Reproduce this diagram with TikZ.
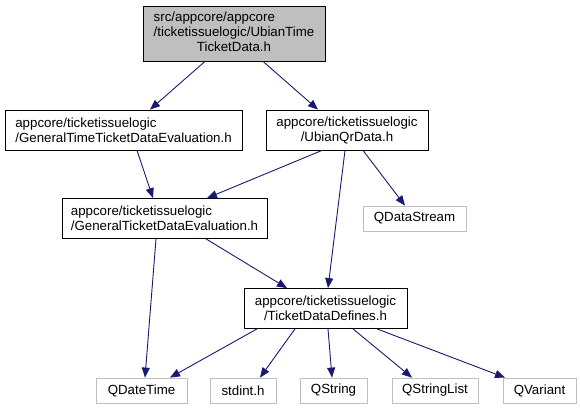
\documentclass[tikz,border=0pt]{standalone}
\usepackage{fontspec}
\setmainfont{Liberation Sans}
\usetikzlibrary{arrows.meta, positioning}
\definecolor{edgeblue}{HTML}{191970}
\definecolor{leafgray}{HTML}{BFBFBF}

\begin{document}
\begin{tikzpicture}[x=1pt, y=-1pt]

  % styles
  \tikzstyle{header} = [rectangle, draw=black, line width=0.8pt, inner sep=0pt, align=left, minimum height=40pt, font=\fontsize{13.3}{15}\selectfont]
  \tikzstyle{rootfile} = [header, fill=leafgray, minimum height=55pt]
  \tikzstyle{extfile} = [rectangle, draw=leafgray, line width=0.8pt, inner sep=0pt, minimum height=25pt, font=\fontsize{13.3}{15}\selectfont]
  \tikzstyle{arrow} = [edgeblue, line width=0.9pt, -{Stealth[length=10pt, width=8pt, inset=0pt]}]

  \useasboundingbox (0,0) rectangle (581,409);

  % root file
  \node (root) [rootfile, minimum width=182pt] at (234,33.5)
    {\begin{tabular}{@{}l@{}}src/appcore/appcore\\/ticketissuelogic/UbianTime\\\multicolumn{1}{@{}c@{}}{TicketData.h}\end{tabular}};

  % second row
  \node (gttde) [header, minimum width=237pt] at (123.5,130) {appcore/ticketissuelogic\\/GeneralTimeTicketDataEvaluation.h};
  \node (uqr) [header, align=center, minimum width=162pt] at (347,130) {appcore/ticketissuelogic\\/UbianQrData.h};

  % third row
  \node (gtde) [header, minimum width=205pt] at (164.5,218.5) {appcore/ticketissuelogic\\/GeneralTicketDataEvaluation.h};
  \node (qds) [extfile, minimum width=103pt] at (414.5,218.5) {QDataStream};

  % defines
  \node (tdd) [header, align=center, minimum width=163pt] at (325.5,308.5) {appcore/ticketissuelogic\\/TicketDataDefines.h};

  % Qt / std headers
  \node (qdt) [extfile, minimum width=91pt] at (141.5,390.5) {QDateTime};
  \node (stdint) [extfile, minimum width=66pt] at (243,390.5) {stdint.h};
  \node (qstr) [extfile, minimum width=67pt] at (333.5,390.5) {QString};
  \node (qsl) [extfile, minimum width=86pt] at (435,390.5) {QStringList};
  \node (qvar) [extfile, minimum width=73pt] at (539.5,390.5) {QVariant};

  % arrows
  \draw [arrow] ([xshift=-29pt]root.south) -- ([xshift=26.5pt]gttde.north);
  \draw [arrow] ([xshift=29pt]root.south) -- ([xshift=-29pt]uqr.north);

  \draw [arrow] ([xshift=13.5pt]gttde.south) -- ([xshift=-11.5pt]gtde.north);
  \draw [arrow] ([xshift=-25pt]uqr.south) -- ([xshift=42.5pt]gtde.north);
  \draw [arrow] ([xshift=16pt]uqr.south) -- ([xshift=-9.5pt]qds.north);
  \draw [arrow] ([xshift=-2pt]uqr.south) -- ([xshift=2.5pt]tdd.north);

  \draw [arrow] ([xshift=-8.5pt]gtde.south) -- ([xshift=3.5pt]qdt.north);
  \draw [arrow] ([xshift=41.5pt]gtde.south) -- ([xshift=-38.5pt]tdd.north);

  \draw [arrow] ([xshift=-68.5pt]tdd.south) -- ([xshift=28.5pt]qdt.north);
  \draw [arrow] ([xshift=-30.5pt]tdd.south) -- ([xshift=17pt]stdint.north);
  \draw [arrow] ([xshift=2.5pt]tdd.south) -- ([xshift=-1.5pt]qstr.north);
  \draw [arrow] ([xshift=27.5pt]tdd.south) -- ([xshift=-23pt]qsl.north);
  \draw [arrow] ([xshift=51.5pt]tdd.south) -- ([xshift=-34.5pt]qvar.north);

\end{tikzpicture}
\end{document}
